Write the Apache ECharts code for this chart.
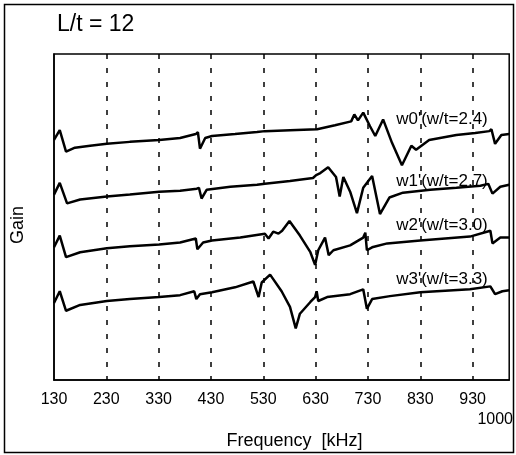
<!DOCTYPE html>
<html>
<head>
<meta charset="utf-8">
<script src="https://cdn.jsdelivr.net/npm/echarts@6/dist/echarts.min.js"></script>
<style>
  html, body { margin: 0; padding: 0; background: #fff; }
</style>
</head>
<body>
<div id="chartDom" style="width: 516px; height: 455px;"></div>
<script>
// tick values on the frequency axis (kHz)
const tickLabels = [130, 230, 330, 430, 530, 630, 730, 830, 930, 1000];
const gridLines = [230, 330, 430, 530, 630, 730, 830, 930];

// gain traces (arbitrary units, offset per width ratio)
const w0Freq = [130,141,153,170,199,231,275,331,371,401,405,409,419,432,476,518,533,581,633,667,698,704,711,721,734,744,759,776,795,813,822,847,899,935,962,966,973,985,1000];
const w0Gain = [246,256,234,238,240,242,244,246,248,252,254,237,248,250,252,254,255,256,257,261,265,272,266,274,260,250,267,243,220,240,236,246,251,253,255,257,242,251,252];

const w1Freq = [130,141,155,180,231,275,331,371,403,407,412,422,467,518,533,581,625,631,639,654,669,676,683,696,709,721,738,753,771,797,849,899,945,960,968,983,1000];
const w1Gain = [190,202,181,185,188,190,193,194,196,197,186,195,198,200,201,204,207,210,212,218,208,188,208,193,171,197,209,170,187,192,195,197,199,201,191,198,200];

const w2Freq = [130,141,153,180,231,275,331,371,401,404,415,432,486,533,540,549,559,566,580,600,620,629,635,648,655,664,696,721,725,728,738,767,830,925,964,968,983,1000];
const w2Gain = [136,148,126,131,135,137,139,141,145,134,141,143,146,150,145,152,150,153,163,148,131,118,133,146,128,133,138,146,151,133,136,140,143,147,153,140,146,146];

const w3Freq = [130,141,153,180,231,275,331,371,398,402,409,432,476,511,521,527,543,565,581,592,600,620,629,632,635,652,696,721,728,738,772,830,925,964,973,987,1000];
const w3Gain = [79,91,71,77,81,83,85,87,91,83,88,90,95,101,85,100,108,91,75,53,68,80,85,91,81,85,88,93,73,83,86,90,93,96,88,91,92];

const seriesNames = ["w0'(w/t=2.4)", "w1'(w/t=2.7)", "w2'(w/t=3.0)", "w3'(w/t=3.3)"];
const labelFreq = 784;
const labelGain = [267, 204, 159, 103];

const traces = [
  [w0Freq, w0Gain],
  [w1Freq, w1Gain],
  [w2Freq, w2Gain],
  [w3Freq, w3Gain]
];

const chartInstance = echarts.init(document.getElementById('chartDom'));
const font = "'Liberation Sans', Arial, sans-serif";

const option = {
  animation: false,
  backgroundColor: '#fff',
  title: {
    text: 'L/t = 12',
    left: 52,
    top: 8,
    textStyle: { fontFamily: font, fontSize: 23, fontWeight: 'normal', color: '#000' }
  },
  graphic: [
    {
      type: 'rect',
      shape: { x: 4.5, y: 4.5, width: 509, height: 448 },
      style: { fill: 'none', stroke: '#000', lineWidth: 1.5 },
      z: 0
    }
  ],
  grid: {
    left: 54,
    right: 5,
    top: 54,
    bottom: 67,
    show: true,
    borderColor: '#000',
    borderWidth: 1.5,
    backgroundColor: 'transparent'
  },
  xAxis: {
    type: 'value',
    min: 130,
    max: 1000,
    name: 'Frequency  [kHz]',
    nameLocation: 'middle',
    nameGap: 44,
    nameTextStyle: { fontFamily: font, fontSize: 18, color: '#000', padding: [0, 0, 0, 26] },
    axisLine: { show: true, lineStyle: { color: '#000', width: 1.5 } },
    axisTick: { show: false, customValues: gridLines },
    axisLabel: {
      customValues: tickLabels,
      margin: 11,
      fontFamily: font,
      fontSize: 16,
      color: '#000',
      formatter: function (v) {
        return v === 1000 ? '{e|1000}' : String(v);
      },
      rich: {
        e: { fontFamily: font, fontSize: 16, color: '#000', padding: [20, 28, 0, 0] }
      }
    },
    splitLine: {
      show: true,
      lineStyle: { color: '#000', width: 1.5, type: [5, 9] }
    }
  },
  yAxis: {
    type: 'value',
    min: 0,
    max: 334,
    name: 'Gain',
    nameLocation: 'middle',
    nameRotate: 90,
    nameGap: 27,
    nameTextStyle: { fontFamily: font, fontSize: 18, color: '#000', padding: [0, 16, 0, 0] },
    axisLine: { show: true, lineStyle: { color: '#000', width: 1.5 } },
    axisTick: { show: false },
    axisLabel: { show: false },
    splitLine: { show: false }
  },
  series: traces.map(function (t, i) {
    return {
      name: seriesNames[i],
      type: 'line',
      data: t[0].map(function (f, j) { return [f, t[1][j]]; }),
      showSymbol: false,
      lineStyle: { color: '#000', width: 2.5 },
      markPoint: {
        symbol: 'circle',
        symbolSize: 0,
        data: [{ coord: [labelFreq, labelGain[i]] }],
        label: {
          show: true,
          position: 'right',
          distance: 0,
          formatter: seriesNames[i],
          fontFamily: font,
          fontSize: 17,
          color: '#000'
        }
      }
    };
  })
};

chartInstance.setOption(option);
</script>
</body>
</html>
